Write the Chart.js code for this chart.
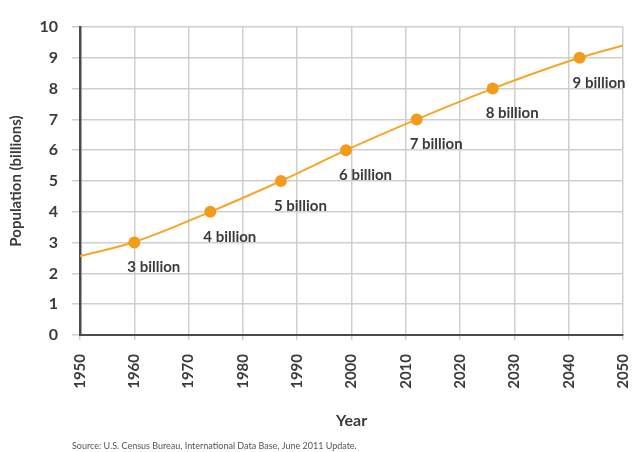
<!DOCTYPE html>
<html>
<head>
<meta charset="utf-8">
<script src="https://cdn.jsdelivr.net/npm/chart.js@4"></script>
<style>
    html, body { margin: 0; padding: 0; background: #ffffff; }
    #wrap { width: 633px; height: 452px; position: relative; }
</style>
</head>
<body>
<div id="wrap"><canvas id="popChart"></canvas></div>
<script>
// World population, 1950-2050 (billions)
const years = [1950, 1960, 1974, 1987, 1999, 2012, 2026, 2042, 2050];
const population = [2.56, 3.02, 4, 5, 6, 7, 8, 9, 9.4];

// Milestone markers
const milestoneYears = [1960, 1974, 1987, 1999, 2012, 2026, 2042];
const milestoneValues = [3, 4, 5, 6, 7, 8, 9];
const milestoneLabels = ['3 billion', '4 billion', '5 billion', '6 billion', '7 billion', '8 billion', '9 billion'];

const sourceText = 'Source: U.S. Census Bureau, International Data Base, June 2011 Update.';

const textColor = '#3b3b3b';
const orange = '#f5a629';
const fontFamily = "Lato, 'Open Sans', sans-serif";

// Labels next to the milestone dots + source line at the bottom
const annotate = {
    id: 'annotate',
    afterDatasetsDraw(chart) {
        const ctx = chart.ctx;
        const meta = chart.getDatasetMeta(1);
        ctx.save();
        ctx.fillStyle = textColor;
        ctx.font = "bold 15px " + fontFamily;
        ctx.textAlign = 'left';
        ctx.textBaseline = 'middle';
        meta.data.forEach((pt, i) => {
            ctx.fillText(milestoneLabels[i], pt.x - 7, pt.y + 25);
        });
        ctx.font = "9px " + fontFamily;
        ctx.fillStyle = '#555';
        ctx.textBaseline = 'alphabetic';
        ctx.fillText(sourceText, 72, 449);
        ctx.restore();
    }
};

new Chart(document.getElementById('popChart'), {
    type: 'line',
    data: {
        datasets: [
            {
                data: years.map((y, i) => ({ x: y, y: population[i] })),
                borderColor: orange,
                borderWidth: 2,
                pointRadius: 0,
                cubicInterpolationMode: 'monotone',
                order: 2
            },
            {
                data: milestoneYears.map((y, i) => ({ x: y, y: milestoneValues[i] })),
                showLine: false,
                pointRadius: 6,
                pointBackgroundColor: '#f39c1b',
                pointBorderWidth: 0,
                order: 1
            }
        ]
    },
    options: {
        responsive: true,
        maintainAspectRatio: false,
        animation: false,
        layout: { padding: { top: 27, right: 10, left: 0, bottom: 22 } },
        plugins: {
            legend: { display: false },
            tooltip: { enabled: false }
        },
        scales: {
            x: {
                type: 'linear',
                min: 1950,
                max: 2050,
                afterFit: (scale) => {
                    scale.height = 95;
                    scale.paddingLeft = 0;
                    scale.paddingRight = 0;
                },
                ticks: {
                    stepSize: 10,
                    minRotation: 90,
                    maxRotation: 90,
                    padding: 14,
                    color: textColor,
                    font: { family: fontFamily, size: 15, weight: 'bold' },
                    callback: (v) => String(v)
                },
                grid: { color: '#cfcfcf', lineWidth: 1.5, tickLength: 5 },
                border: { color: '#4a4a4a', width: 2 },
                title: {
                    display: true,
                    text: 'Year',
                    color: textColor,
                    font: { family: fontFamily, size: 16, weight: 'bold' },
                    padding: { top: 14, bottom: 0 }
                }
            },
            y: {
                min: 0,
                max: 10,
                afterFit: (scale) => { scale.width = 80; },
                ticks: {
                    stepSize: 1,
                    padding: 14,
                    color: textColor,
                    font: { family: fontFamily, size: 16, weight: 'bold' }
                },
                grid: { color: '#cfcfcf', lineWidth: 1.5, tickLength: 8 },
                border: { color: '#4a4a4a', width: 2.5 },
                title: {
                    display: true,
                    text: 'Population (billions)',
                    color: textColor,
                    font: { family: fontFamily, size: 15, weight: 'bold' },
                    padding: { top: 7, bottom: 4 }
                }
            }
        }
    },
    plugins: [annotate]
});
</script>
</body>
</html>
